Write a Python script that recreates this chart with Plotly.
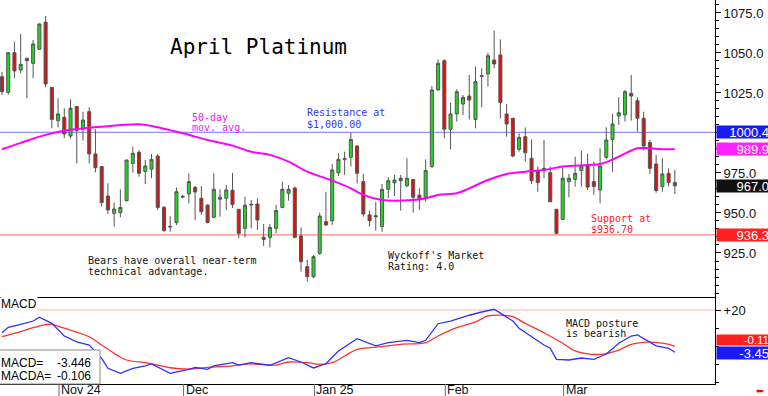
import plotly.graph_objects as go

# ---------------- data ----------------
opens = [1035.2, 1025.4, 1050.2, 1039.4, 1046.7, 1043.5, 1052.3, 1069.2, 1028.5, 1007.7,
         1009.8, 998.1, 1016.5, 1002.3, 1013.3, 986.9, 979.0, 960.6, 949.8, 950.2,
         957.7, 981.0, 987.9, 976.0, 977.3, 985.6, 953.5, 941.7, 944.0, 960.4,
         961.9, 966.0, 959.2, 955.0, 947.3, 958.6, 959.2, 964.2, 952.3, 940.4,
         955.0, 955.6, 934.8, 934.8, 940.4, 953.5, 962.3, 965.6, 935.6, 916.5,
         910.2, 924.8, 944.6, 945.2, 975.2, 983.5, 984.8, 991.9, 969.6, 948.8,
         948.3, 941.5, 964.8, 968.9, 971.7, 967.1, 971.0, 961.2, 959.8, 978.9,
         1026.9, 1045.2, 1002.3, 1011.9, 1018.1, 1023.1, 1008.5, 1035.8, 1036.9, 1045.6,
         1048.8, 1011.9, 1009.2, 989.8, 997.7, 984.2, 976.5, 977.9, 975.2, 952.3,
         946.0, 969.6, 971.0, 976.5, 979.6, 969.6, 964.4, 984.8, 996.0, 1010.6,
         1011.3, 1024.8, 1020.2, 1009.2, 994.0, 980.6, 966.5, 974.8, 969.0]
highs = [1038.3, 1050.5, 1057.1, 1061.9, 1046.9, 1058.1, 1068.5, 1073.1, 1028.7, 1021.7,
         1015.4, 1021.0, 1016.7, 1013.3, 1016.0, 1002.3, 979.2, 968.6, 956.5, 964.8,
         983.3, 991.5, 989.4, 983.1, 986.9, 986.9, 954.4, 948.0, 966.0, 961.3,
         974.8, 966.9, 966.9, 955.2, 974.8, 964.8, 967.5, 975.0, 952.5, 960.2,
         958.1, 959.2, 943.1, 943.1, 955.0, 969.6, 967.5, 966.5, 941.0, 920.6,
         923.8, 950.2, 963.3, 980.6, 987.3, 988.3, 1000.2, 992.1, 974.4, 951.5,
         957.0, 968.1, 972.3, 973.8, 973.8, 984.2, 971.2, 965.4, 983.5, 1029.4,
         1046.0, 1046.0, 1018.9, 1027.3, 1023.8, 1036.3, 1041.5, 1040.4, 1050.2, 1064.0,
         1058.5, 1018.1, 1009.4, 999.8, 1003.5, 996.0, 979.0, 995.6, 979.0, 952.5,
         979.4, 974.4, 985.2, 988.9, 987.0, 982.1, 990.4, 1003.5, 1011.9, 1022.3,
         1026.9, 1036.3, 1022.3, 1013.3, 995.6, 986.3, 984.2, 977.9, 976.9]
lows = [1023.7, 1023.8, 1034.2, 1037.3, 1021.7, 1034.2, 1052.0, 1028.5, 1002.9, 1003.5,
        996.7, 996.7, 981.0, 995.2, 981.0, 975.4, 954.0, 949.4, 941.5, 947.3,
        957.1, 975.2, 972.7, 968.1, 971.7, 951.9, 938.3, 938.3, 942.5, 959.2,
        956.0, 945.6, 948.8, 943.5, 946.7, 947.7, 951.9, 953.2, 934.2, 934.8,
        940.4, 939.4, 929.4, 928.5, 937.3, 952.9, 957.7, 934.2, 913.3, 907.1,
        909.2, 923.8, 941.9, 942.5, 973.1, 973.8, 979.0, 968.5, 947.7, 941.5,
        939.0, 938.3, 959.2, 960.6, 951.5, 966.0, 950.2, 951.9, 957.1, 978.5,
        1026.5, 996.7, 989.8, 1007.1, 1011.3, 1008.5, 1002.9, 1016.0, 1029.0, 1040.4,
        1009.2, 997.7, 984.8, 988.3, 982.1, 968.1, 963.3, 971.7, 956.5, 936.9,
        945.6, 959.8, 966.5, 966.5, 964.4, 961.3, 956.0, 983.5, 975.8, 1005.0,
        1007.1, 1007.7, 1000.8, 989.0, 974.4, 962.7, 963.3, 966.5, 961.9]
closes = [1025.8, 1050.2, 1038.8, 1042.9, 1045.2, 1055.6, 1068.1, 1030.6, 1008.5, 1011.9,
          999.4, 1015.4, 1001.5, 1008.1, 986.9, 978.3, 956.5, 951.9, 952.5, 953.5,
          983.1, 987.3, 974.8, 979.4, 983.5, 953.5, 939.0, 941.3, 963.3, 960.0,
          969.6, 963.1, 950.8, 944.0, 964.8, 959.8, 964.4, 955.3, 937.3, 954.8,
          955.4, 945.6, 933.5, 941.0, 951.5, 964.8, 964.8, 934.8, 919.6, 910.2,
          922.7, 948.1, 942.5, 976.9, 983.5, 984.0, 996.0, 974.8, 949.4, 945.2,
          947.7, 964.8, 970.2, 970.6, 970.2, 971.7, 959.8, 959.2, 976.5, 1026.9,
          1043.5, 1002.3, 1011.9, 1025.8, 1022.3, 1020.6, 1032.1, 1035.4, 1048.3, 1043.1,
          1019.0, 1005.6, 985.6, 997.3, 987.7, 970.2, 969.0, 976.5, 957.1, 937.3,
          971.7, 971.7, 974.8, 979.4, 966.2, 966.5, 979.4, 995.6, 1005.6, 1012.7,
          1025.8, 1023.1, 1009.2, 991.9, 977.9, 964.0, 974.4, 969.0, 967.0]

# 50-day moving average, read at sampled trading-day positions
ma_day = [0, 3, 7, 10, 16, 22, 24, 29, 33, 37, 40, 43, 46, 49, 53, 56, 58, 61, 66, 68,
          70, 73, 75, 78, 81, 84, 87, 90, 94, 96, 99, 102, 104, 106, 108]
ma_val = [989.8, 993.8, 998.8, 1001.4, 1003.9, 1005.4, 1004.4, 999.8, 995.6, 992.1,
          988.3, 986.3, 982.1, 975.8, 970.2, 965.4, 961.3, 958.1, 958.1, 959.2,
          961.3, 962.3, 965.4, 970.6, 974.4, 975.8, 976.9, 979.0, 980.0, 980.6,
          985.2, 990.4, 990.4, 989.8, 989.9]

# MACD (blue) and its average MACDA (red), read at sampled positions
macd_day = [0, 1, 3, 5, 6, 8, 10, 12, 14, 16, 17, 19, 21, 23, 24, 27, 30, 31, 33, 34,
            37, 38, 40, 43, 46, 48, 50, 52, 54, 57, 60, 62, 65, 67, 68, 70, 72, 74, 75, 77,
            79, 80, 82, 83, 85, 87, 88, 89, 91, 93, 95, 97, 99, 101, 102, 103, 105, 107, 108]
macd_val = [7.4, 10.4, 12.1, 13.9, 16.0, 12.6, 5.6, 2.4, 0.6, -6.8, -12.3, -15.1, -12.3, -11.0,
            -9.9, -15.1, -12.9, -11.8, -12.9, -11.0, -9.2, -10.5, -9.2, -10.6, -6.4, -8.8,
            -12.1, -9.8, -2.7, 4.1, 0.1, 1.9, 3.2, 1.9, 3.2, 12.4, 13.9, 16.3, 17.1, 18.9,
            20.4, 18.3, 13.9, 9.9, 5.2, 0.6, -1.2, -7.3, -7.7, -6.6, -7.3, -4.4, 1.6, 5.6,
            6.2, 4.3, 0.1, -1.2, -3.446]
sig_day = [0, 3, 5, 7, 8, 10, 14, 16, 18, 20, 23, 25, 27, 30, 33, 37, 40, 44, 46, 49,
           51, 53, 55, 57, 61, 64, 68, 70, 73, 76, 78, 80, 82, 84, 87, 90, 92, 96, 99, 101,
           103, 106, 108]
sig_val = [5.2, 8.0, 10.2, 11.9, 12.1, 9.9, 5.2, 0.6, -4.0, -7.7, -9.2, -10.5, -12.0, -12.7,
           -11.8, -10.9, -9.9, -10.5, -8.8, -9.2, -10.1, -9.2, -5.5, -1.8, -0.3, 1.0, 1.9,
           5.6, 10.2, 13.4, 16.7, 17.2, 16.3, 12.6, 7.4, 1.6, -2.6, -4.6, -2.2, 1.0, 2.1,
           1.6, -0.106]

month_labels = ["Nov 24", "Dec", "Jan 25", "Feb", "Mar"]
month_start_day = [9, 29, 50, 71, 90]

price_ticks = [925, 950, 975, 1000, 1025, 1050, 1075]
resistance = 1000.4
support = 936.3
last_close = 967.0
last_ma = 989.9
last_macd = -3.446
last_macda = -0.106

days = list(range(len(closes)))

# ---------------- geometry helpers (pixels -> paper) ----------------
PW, PH = 715, 384


def px(x):
    return x / PW


def py(y):
    return 1 - y / PH


MONO = "DejaVu Sans Mono"
SANS = "Liberation Sans, Arial"

fig = go.Figure()

fig.add_trace(go.Candlestick(
    x=days, open=opens, high=highs, low=lows, close=closes,
    increasing=dict(fillcolor="#1ed81e", line=dict(color="#555555", width=1)),
    decreasing=dict(fillcolor="#e01010", line=dict(color="#555555", width=1)),
    whiskerwidth=0, xaxis="x", yaxis="y", showlegend=False, hoverinfo="skip"))

fig.add_trace(go.Scatter(x=ma_day, y=ma_val, mode="lines", line=dict(color="#ff00ff", width=2, shape="spline"),
                         xaxis="x", yaxis="y", showlegend=False, hoverinfo="skip"))

fig.add_trace(go.Scatter(x=sig_day, y=sig_val, mode="lines", line=dict(color="#ff3030", width=1.3, shape="spline"),
                         xaxis="x2", yaxis="y2", showlegend=False, hoverinfo="skip"))
fig.add_trace(go.Scatter(x=macd_day, y=macd_val, mode="lines", line=dict(color="#3030ff", width=1.3),
                         xaxis="x2", yaxis="y2", showlegend=False, hoverinfo="skip"))

xr = [-0.32, -0.32 + PW / 6.23]

shapes = []
shapes.append(dict(type="line", xref="paper", yref="y", x0=0, x1=1, y0=resistance, y1=resistance,
                   line=dict(color="#9090ff", width=1.3), layer="below"))
shapes.append(dict(type="line", xref="paper", yref="y", x0=0, x1=1, y0=support, y1=support,
                   line=dict(color="#ff8080", width=1.3), layer="below"))
shapes.append(dict(type="line", xref="paper", yref="y2", x0=0, x1=1, y0=20, y1=20,
                   line=dict(color="#ffb0b0", width=1), layer="below"))
shapes.append(dict(type="rect", xref="paper", yref="paper", x0=px(-1), x1=px(100), y0=py(384), y1=py(350),
                   line=dict(color="#888888", width=1), fillcolor="white"))
for d in month_start_day:
    shapes.append(dict(type="line", xref="x2", yref="paper", x0=d + 0.15, x1=d + 0.15, y0=py(396), y1=py(384),
                       line=dict(color="#666666", width=1)))

ann = []


def txt(x, y, s, color="#111111", size=10, family=MONO, **kw):
    ann.append(dict(xref="paper", yref="paper", x=px(x), y=py(y), text=s, showarrow=False,
                    xanchor="left", yanchor="middle", font=dict(family=family, size=size, color=color),
                    borderpad=0, **kw))


txt(169, 47, "April Platinum", size=21, color="#000000")
txt(191, 117, "50-day", color="#ee22ee")
txt(191, 128, "mov. avg.", color="#ee22ee")
txt(306, 113, "Resistance at", color="#3333ff")
txt(306, 124, "$1,000.00", color="#3333ff")
txt(590, 218, "Support at", color="#ff2020")
txt(590, 229, "$936.70", color="#ff2020")
txt(87, 260, "Bears have overall near-term")
txt(87, 271, "technical advantage.")
txt(387, 255, "Wyckoff's Market")
txt(387, 266, "Rating: 4.0")
txt(565, 323, "MACD posture")
txt(565, 333, "is bearish")
txt(0, 304, "MACD", family=SANS, size=12, color="#000000", bgcolor="white")
txt(0, 363, "MACD=", family=SANS, size=12, color="#000000")
txt(0, 376, "MACDA=", family=SANS, size=12, color="#000000")
ann.append(dict(xref="paper", yref="paper", x=px(92), y=py(363), text=f"{last_macd:.3f}", showarrow=False,
                xanchor="right", yanchor="middle", font=dict(family=SANS, size=12, color="#000"), borderpad=0))
ann.append(dict(xref="paper", yref="paper", x=px(92), y=py(376), text=f"{last_macda:.3f}", showarrow=False,
                xanchor="right", yanchor="middle", font=dict(family=SANS, size=12, color="#000"), borderpad=0))

for lab, d in zip(month_labels, month_start_day):
    ann.append(dict(xref="x2", yref="paper", x=d + 0.3, y=py(390), text=lab, showarrow=False,
                    xanchor="left", yanchor="middle", font=dict(family=SANS, size=12.5, color="#111"),
                    borderpad=0))

ann.append(dict(xref="paper", yref="paper", x=px(760), y=py(391), text="\u2b05", showarrow=False,
                xanchor="center", yanchor="middle", font=dict(family="DejaVu Sans", size=9, color="#ff0000")))


def box(val, yref, color, label, yshift=0, h=12, size=13):
    ann.append(dict(xref="paper", yref=yref, x=1, y=val, text=label, showarrow=False, xanchor="left",
                    yanchor="middle", xshift=1, yshift=yshift, width=52, height=h, align="right",
                    bgcolor=color, borderpad=0, font=dict(family=SANS, size=size, color="white")))


box(resistance, "y", "#1a1aff", f"{resistance:.1f}")
box(last_ma, "y", "#ff22ff", f"{last_ma:.1f}")
box(last_close, "y", "#111111", f"{last_close:.1f}")
box(support, "y", "#ff2020", f"{support:.1f}")
box(last_macda, "y2", "#ff2020", f"{last_macda:.2f}", yshift=6.5, h=10, size=11.5)
box(last_macd, "y2", "#1a1aff", f"{last_macd:.2f}", yshift=-1)

fig.update_layout(
    width=768, height=396,
    margin=dict(l=0, r=768 - PW, t=0, b=396 - PH),
    paper_bgcolor="white", plot_bgcolor="white",
    showlegend=False,
    xaxis=dict(domain=[0, 1], anchor="y", range=xr, showticklabels=False, ticks="", showgrid=False,
               zeroline=False, showline=True, linecolor="#000", linewidth=1, rangeslider=dict(visible=False),
               fixedrange=True),
    xaxis2=dict(domain=[0, 1], anchor="y2", range=xr, matches="x", showticklabels=False, ticks="",
                showgrid=False, zeroline=False, showline=True, mirror=True, linecolor="#000", linewidth=1),
    yaxis=dict(domain=[1 - 297 / PH, 1], anchor="x", side="right", range=[897.5, 1083.1],
               tickmode="array", tickvals=price_ticks,
               ticktext=["" if v == 1000 else f"{v:.1f}" for v in price_ticks],
               ticks="outside", ticklen=5, tickcolor="#000", showgrid=False, zeroline=False,
               showline=True, linecolor="#000", linewidth=1,
               tickfont=dict(family=SANS, size=13, color="#111"),
               minor=dict(ticks="outside", ticklen=3, dtick=5, tick0=0, tickcolor="#000", showgrid=False)),
    yaxis2=dict(domain=[0, 86 / PH], anchor="x2", side="right", range=[-21.0, 26.66],
                tickmode="array", tickvals=[20], ticktext=["+20"], ticks="outside", ticklen=5,
                tickcolor="#000", showgrid=False, zeroline=False, showline=True, linecolor="#000",
                linewidth=1, tickfont=dict(family=SANS, size=13, color="#111"),
                minor=dict(ticks="outside", ticklen=3, dtick=10, tick0=0, tickcolor="#000", showgrid=False)),
    shapes=shapes,
    annotations=ann,
)

fig.write_html("out.html", config={"displayModeBar": False, "staticPlot": True},
               post_script="document.body.style.margin='0';document.body.style.overflow='hidden';")
